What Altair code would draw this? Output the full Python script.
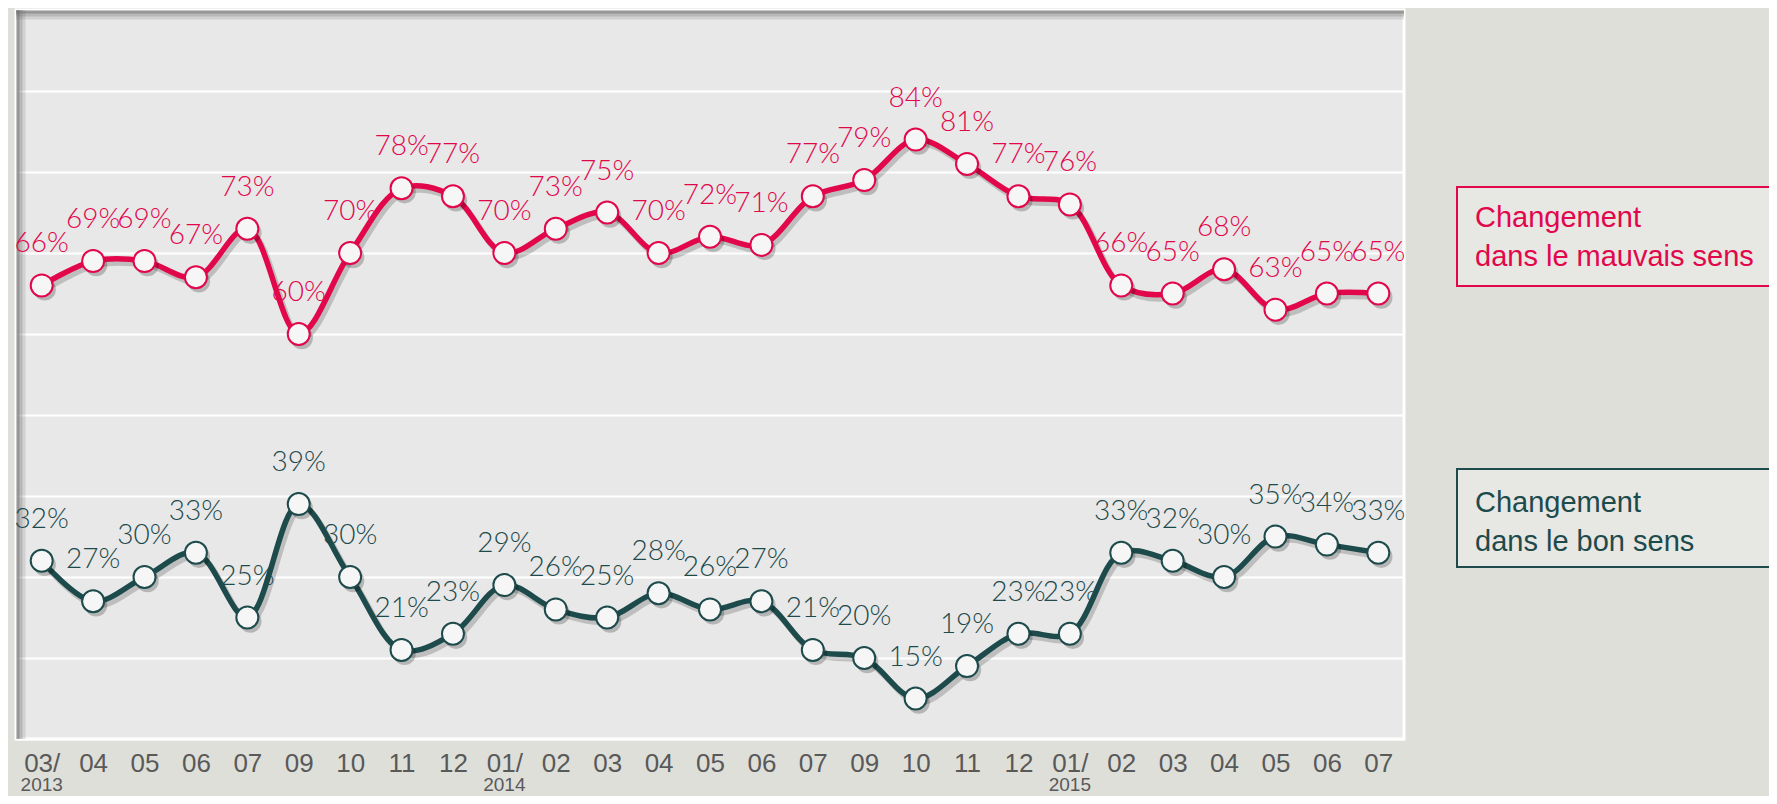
import altair as alt
import pandas as pd

# ---- data ----
month_labels = ["03/", "04", "05", "06", "07", "09", "10", "11", "12",
                "01/", "02", "03", "04", "05", "06", "07", "09", "10", "11", "12",
                "01/", "02", "03", "04", "05", "06", "07"]
years = [2013] * 9 + [2014] * 11 + [2015] * 7
mauvais = [66, 69, 69, 67, 73, 60, 70, 78, 77, 70, 73, 75, 70, 72, 71, 77, 79, 84, 81, 77,
           76, 66, 65, 68, 63, 65, 65]
bon = [32, 27, 30, 33, 25, 39, 30, 21, 23, 29, 26, 25, 28, 26, 27, 21, 20, 15, 19, 23,
       23, 33, 32, 30, 35, 34, 33]
series_names = ["Changement dans le mauvais sens", "Changement dans le bon sens"]
legend_line1 = ["Changement", "Changement"]
legend_line2 = ["dans le mauvais sens", "dans le bon sens"]
year_ticks = ["03/_2013", "01/_2014", "01/_2015"]
year_text = ["2013", "2014", "2015"]

RED = "#E2064B"
TEAL = "#1D4A4B"
colors = [RED, TEAL]

periods = [f"{m}_{y}" for m, y in zip(month_labels, years)]

rows = []
for name, vals in zip(series_names, [mauvais, bon]):
    for p, v in zip(periods, vals):
        rows.append({"period": p, "series": name, "value": v, "label": f"{v}%"})
df = pd.DataFrame(rows)
years_df = pd.DataFrame({"period": year_ticks, "year": year_text})

W, H = 1388, 729

xenc = alt.X("period:O", sort=periods,
             scale=alt.Scale(type="point", padding=0.5),
             axis=alt.Axis(title=None, labelExpr="split(datum.value,'_')[0]",
                           labelAngle=0, ticks=False, domain=False, grid=False,
                           labelFont="Liberation Sans", labelFontSize=26,
                           labelColor="#595959", labelPadding=11))
yenc = alt.Y("value:Q", scale=alt.Scale(domain=[10, 100], nice=False, zero=False),
             axis=alt.Axis(title=None, labels=False, ticks=False, domain=False,
                           values=list(range(10, 101, 10)), gridColor="white",
                           gridWidth=2, gridOpacity=1))
cenc = alt.Color("series:N", scale=alt.Scale(domain=series_names, range=colors), legend=None)

base = alt.Chart(df)

shadow_line = base.mark_line(interpolate="catmull-rom", strokeWidth=6, color="#000000",
                             opacity=0.18, xOffset=3, yOffset=4).encode(
    x=xenc, y=yenc, detail="series:N")
line = base.mark_line(interpolate="catmull-rom", strokeWidth=5.5).encode(
    x=xenc, y=yenc, color=cenc)
shadow_pts = base.mark_point(shape="circle", size=500, filled=True, color="#000000",
                             opacity=0.22, xOffset=3, yOffset=4).encode(x=xenc, y=yenc)
pts = base.mark_point(shape="circle", size=484, filled=False, strokeWidth=2,
                      fill="#F6F6F6", fillOpacity=1, opacity=1).encode(
    x=xenc, y=yenc, stroke=alt.Stroke("series:N", scale=alt.Scale(domain=series_names, range=colors), legend=None))
labels = base.mark_text(font="Lato", fontWeight=300, fontSize=28, baseline="middle",
                        align="center", dy=-41).encode(
    x=xenc, y=yenc, text="label:N", color=cenc)

year_lbl = alt.Chart(years_df).mark_text(font="Liberation Sans", fontSize=19, color="#595959",
                                         baseline="middle", align="center").encode(
    x=alt.X("period:O", sort=periods, scale=alt.Scale(type="point", padding=0.5)),
    y=alt.value(H + 46), text="year:N")

# inner shadow of the plot frame
frame_layers = []
for off, op in [(2, 0.30), (5, 0.15), (8, 0.06)]:
    frame_layers.append(alt.Chart(years_df).mark_rule(color="#6a6a6a", strokeWidth=3, opacity=op).encode(
        x=alt.value(0), x2=alt.value(W), y=alt.value(off)))
    frame_layers.append(alt.Chart(years_df).mark_rule(color="#6a6a6a", strokeWidth=3, opacity=op).encode(
        y=alt.value(0), y2=alt.value(H), x=alt.value(off)))

# legend boxes
leg_df = pd.DataFrame({"series": series_names, "l1": legend_line1, "l2": legend_line2})
legend_layers = []
boxes = [(177, 276, 217), (459, 557, 502)]
for i, (top, bot, base_y) in enumerate(boxes):
    d = alt.Chart(leg_df.iloc[[i]])
    legend_layers.append(d.mark_rect(fill="#E7E7E3", stroke=colors[i], strokeWidth=2).encode(
        x=alt.value(1441), x2=alt.value(1800), y=alt.value(top), y2=alt.value(bot)))
    legend_layers.append(d.mark_text(font="Liberation Sans", fontSize=29, color=colors[i],
                                     align="left", baseline="alphabetic").encode(
        x=alt.value(1459), y=alt.value(base_y), text="l1:N"))
    legend_layers.append(d.mark_text(font="Liberation Sans", fontSize=29, color=colors[i],
                                     align="left", baseline="alphabetic").encode(
        x=alt.value(1459), y=alt.value(base_y + 39), text="l2:N"))

chart = alt.layer(*frame_layers, shadow_line, line, shadow_pts, pts, labels, year_lbl,
                  *legend_layers).resolve_scale(color="shared").properties(
    width=W, height=H,
    autosize=alt.AutoSizeParams(type="none"),
    padding={"left": 8, "top": 2, "right": 1761 - 8 - W, "bottom": 788 - 2 - H},
    background="#DFDFDA",
).configure_view(fill="#E8E8E8", stroke="white", strokeWidth=3)

chart.save("out.html", embed_options={"renderer": "svg", "actions": False})
